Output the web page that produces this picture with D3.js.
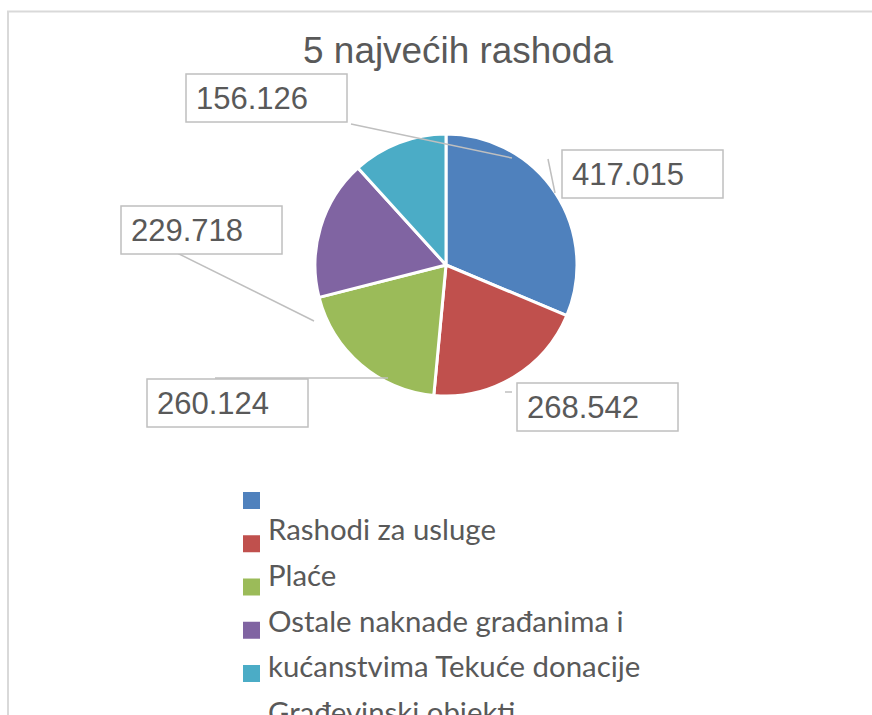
<!DOCTYPE html>
<html>
<head>
<meta charset="utf-8">
<script src="https://cdn.jsdelivr.net/npm/d3@7"></script>
<style>
  body { margin: 0; background: #fff; }
  svg { display: block; }
</style>
</head>
<body>
<script>
// data
const categories = ["", "Rashodi za usluge", "Plaće", "Ostale naknade građanima i kućanstvima", "Tekuće donacije"];
const values = [417.015, 268.542, 260.124, 229.718, 156.126];
const valueLabels = ["417.015", "268.542", "260.124", "229.718", "156.126"];
const colors = ["#4f81bd", "#c0504d", "#9bbb59", "#8064a2", "#4bacc6"];
// legend text as it is wrapped in the picture
const legendLines = ["Rashodi za usluge", "Plaće", "Ostale naknade građanima i", "kućanstvima Tekuće donacije", "Građevinski objekti"];

const width = 872, height = 715;
const cx = 446, cy = 265, radius = 131;

// label boxes and their leader lines (layout only)
const labelLayout = [
  { x: 562, y: 150, leader: [[548, 159], [555, 193]] },
  { x: 517, y: 383, leader: [[505, 392], [512, 392]] },
  { x: 147, y: 379, leader: [[215, 378], [388, 378]] },
  { x: 121, y: 206, leader: [[171, 250], [314, 321]] },
  { x: 186, y: 74,  leader: [[351, 124], [512, 158]] }
];

let svg = d3.select("body").append("svg")
    .attr("width", width)
    .attr("height", height);

// chart area border (left and top visible, rest runs off the page)
svg.append("path")
    .attr("d", "M8,715 L8,11.5 L872,11.5")
    .attr("fill", "none")
    .attr("stroke", "#d9d9d9")
    .attr("stroke-width", 2);

// title, fitted to the width seen in the reference
let title = svg.append("text")
    .attr("x", 458)
    .attr("y", 63)
    .attr("text-anchor", "middle")
    .attr("font-family", "Liberation Sans, Arial, sans-serif")
    .attr("font-size", 32)
    .attr("fill", "#595959")
    .text("5 najvećih rashoda");
let tw = title.node().getComputedTextLength();
title.attr("font-size", 32 * 310 / tw);

// pie
let pie = d3.pie().sort(null).value(d => d);
let arc = d3.arc().innerRadius(0).outerRadius(radius);
let arcs = pie(values);

let g = svg.append("g").attr("transform", "translate(" + cx + "," + cy + ")");
g.selectAll("path.slice")
  .data(arcs)
  .enter().append("path")
    .attr("class", "slice")
    .attr("d", arc)
    .attr("fill", (d, i) => colors[i])
    .attr("stroke", "#fff")
    .attr("stroke-width", 3)
    .attr("stroke-linejoin", "round");

// leader lines
let line = d3.line();
svg.selectAll("path.leader")
  .data(labelLayout)
  .enter().append("path")
    .attr("class", "leader")
    .attr("d", d => line(d.leader))
    .attr("fill", "none")
    .attr("stroke", "#bfbfbf")
    .attr("stroke-width", 1.5);

// data label boxes
let boxW = 161, boxH = 48;
let labels = svg.selectAll("g.lbl")
  .data(labelLayout)
  .enter().append("g")
    .attr("class", "lbl")
    .attr("transform", d => "translate(" + d.x + "," + d.y + ")");
labels.append("rect")
    .attr("width", boxW)
    .attr("height", boxH)
    .attr("fill", "#fff")
    .attr("stroke", "#bfbfbf")
    .attr("stroke-width", 1.5);
labels.append("text")
    .attr("x", 10)
    .attr("y", 35)
    .attr("font-family", "Liberation Sans, Arial, sans-serif")
    .attr("font-size", 31)
    .attr("fill", "#595959")
    .text((d, i) => valueLabels[i]);

// legend
let sqY = d3.scaleLinear().domain([0, 4]).range([492, 665]);
svg.selectAll("rect.key")
  .data(categories)
  .enter().append("rect")
    .attr("class", "key")
    .attr("x", 243)
    .attr("y", (d, i) => sqY(i))
    .attr("width", 17)
    .attr("height", 17)
    .attr("fill", (d, i) => colors[i]);

let lineY = d3.scaleLinear().domain([0, 4]).range([540, 723]);
let leg = svg.selectAll("text.leg")
  .data(legendLines)
  .enter().append("text")
    .attr("class", "leg")
    .attr("x", 268)
    .attr("y", (d, i) => lineY(i))
    .attr("font-family", "Lato, Carlito, Calibri, sans-serif")
    .attr("font-size", 30)
    .attr("fill", "#595959")
    .text(d => d);
// match width of "Rashodi za usluge" (about 228px)
let lw = leg.filter((d, i) => i === 0).node().getComputedTextLength();
leg.attr("font-size", 30 * 228 / lw);
</script>
</body>
</html>
